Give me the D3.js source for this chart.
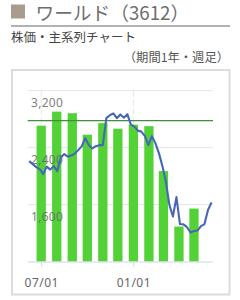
<!DOCTYPE html>
<html>
<head>
<meta charset="utf-8">
<script src="https://cdn.jsdelivr.net/npm/d3@7"></script>
<style>
html,body{margin:0;padding:0;background:#fff;}
svg{display:block;}
text{font-family:"Noto Sans CJK JP","Noto Sans",sans-serif;}
</style>
</head>
<body>
<svg id="chart" width="240" height="300"></svg>
<script>
const titleText = "ワールド（3612）";
const subtitleText = "株価・主系列チャート";
const periodText = "（期間1年・週足）";

// weekly closes (Fridays from 2019-06-07)
const weekStart = "2019-06-07";
const prices = [2211,2168,2126,2098,2028,2133,2091,2140,2070,2260,
  2309,2274,2288,2316,2365,2421,2533,2435,2389,2421,
  2435,2435,2814,2856,2880,2814,2866,2821,2870,2723,
  2695,2639,2625,2561,2435,2561,2463,2323,2140,1916,
  1593,1432,1705,1326,1322,1284,1207,1228,1235,1298,
  1326,1523,1631];

// monthly volume (thousand shares)
const months = ["2019-07-01","2019-08-01","2019-09-01","2019-10-01","2019-11-01","2019-12-01",
  "2020-01-01","2020-02-01","2020-03-01","2020-04-01","2020-05-01"];
const volumes = [2386,2632,2605,2228,2430,2333,2404,2377,1588,614,930];

const refLine = 2780;
const yTicks = [3200,2400,1600];
const xTickDates = ["2019-07-01","2020-01-01"];
const xTickLabels = ["07/01","01/01"];

(function(){
const parse = d3.timeParse("%Y-%m-%d");
const svg = d3.select("#chart");

// header
svg.append("rect").attr("x",11).attr("y",4.5).attr("width",14).attr("height",14).attr("fill","#a99b8e");
svg.append("text").attr("x",35.5).attr("y",19.5).attr("font-size",18.7).attr("fill","#6e6e6e").text(titleText);
svg.append("line").attr("x1",11).attr("x2",230).attr("y1",26).attr("y2",26).attr("stroke","#999").attr("stroke-width",1.5);
svg.append("text").attr("x",11).attr("y",41.5).attr("font-size",12.5).attr("fill","#444").text(subtitleText);
svg.append("text").attr("x",229).attr("y",62).attr("text-anchor","end").attr("font-size",12.3).attr("fill","#555").text(periodText);

// box
svg.append("rect").attr("x",12).attr("y",70).attr("width",217.5).attr("height",224.5)
  .attr("fill","none").attr("stroke","#dcdcdc").attr("stroke-width",2);

const pLeft = 27.7, pRight = 213, pTop = 90.7, pBottom = 261.5;
const x = d3.scaleTime().domain([new Date(2019,5,4), new Date(2020,5,8)]).range([pLeft,pRight]);
const y = d3.scaleLinear().domain([800,3200]).range([pBottom,pTop]);
const yv = d3.scaleLinear().domain([0,3000]).range([pBottom,pTop]);

// grid
const g = svg.append("g");
g.selectAll(".hg").data(yTicks).enter().append("line")
  .attr("x1",pLeft).attr("x2",pRight).attr("y1",d=>y(d)).attr("y2",d=>y(d))
  .attr("stroke","#e6e6e6").attr("stroke-width",1);
g.selectAll(".vg").data(xTickDates).enter().append("line")
  .attr("x1",d=>x(parse(d))).attr("x2",d=>x(parse(d))).attr("y1",pTop).attr("y2",pBottom)
  .attr("stroke","#e6e6e6").attr("stroke-width",1).attr("stroke-dasharray","6,3");

// bars
const bw = 9.3;
svg.append("g").selectAll("rect").data(months).enter().append("rect")
  .attr("x",d=>x(parse(d))-bw/2).attr("width",bw)
  .attr("y",(d,i)=>yv(volumes[i])).attr("height",(d,i)=>pBottom-yv(volumes[i]))
  .attr("fill","#52d237");

// baseline axis
const xAxis = d3.axisBottom(x).tickValues(xTickDates.map(parse)).tickSize(5).tickFormat((d,i)=>xTickLabels[i]);
const ax = svg.append("g").attr("transform",`translate(0,${pBottom})`).call(xAxis);
ax.select(".domain").attr("stroke","#ccd6eb").attr("d",`M${pLeft},0.5H${pRight}`);
ax.selectAll(".tick line").attr("stroke","#ccd6eb");
ax.selectAll(".tick text").attr("font-size",12).attr("fill","#666").attr("dy","1.45em")
  .style("font-family","'Noto Sans','DejaVu Sans',sans-serif").attr("letter-spacing","0.5");

// y labels
svg.append("g").selectAll("text").data(yTicks).enter().append("text")
  .attr("x",31).attr("y",d=>y(d)+16.5).attr("font-size",12).attr("fill","#666")
  .attr("fill-opacity",0.85).attr("letter-spacing","0.3")
  .style("font-family","'Noto Sans','DejaVu Sans',sans-serif")
  .text(d=>d3.format(",")(d));

// reference line
svg.append("line").attr("x1",pLeft).attr("x2",pRight).attr("y1",y(refLine)).attr("y2",y(refLine))
  .attr("stroke","#3f8f3f").attr("stroke-width",1.3);

// price line
const start = parse(weekStart);
const pts = prices.map((p,i)=>({d:d3.timeDay.offset(start,i*7),p}));
const line = d3.line().x(d=>x(d.d)).y(d=>y(d.p));
svg.append("path").datum(pts).attr("d",line).attr("fill","none")
  .attr("stroke","#4866b8").attr("stroke-width",2.1).attr("stroke-linejoin","round");
})();
</script>
</body>
</html>
